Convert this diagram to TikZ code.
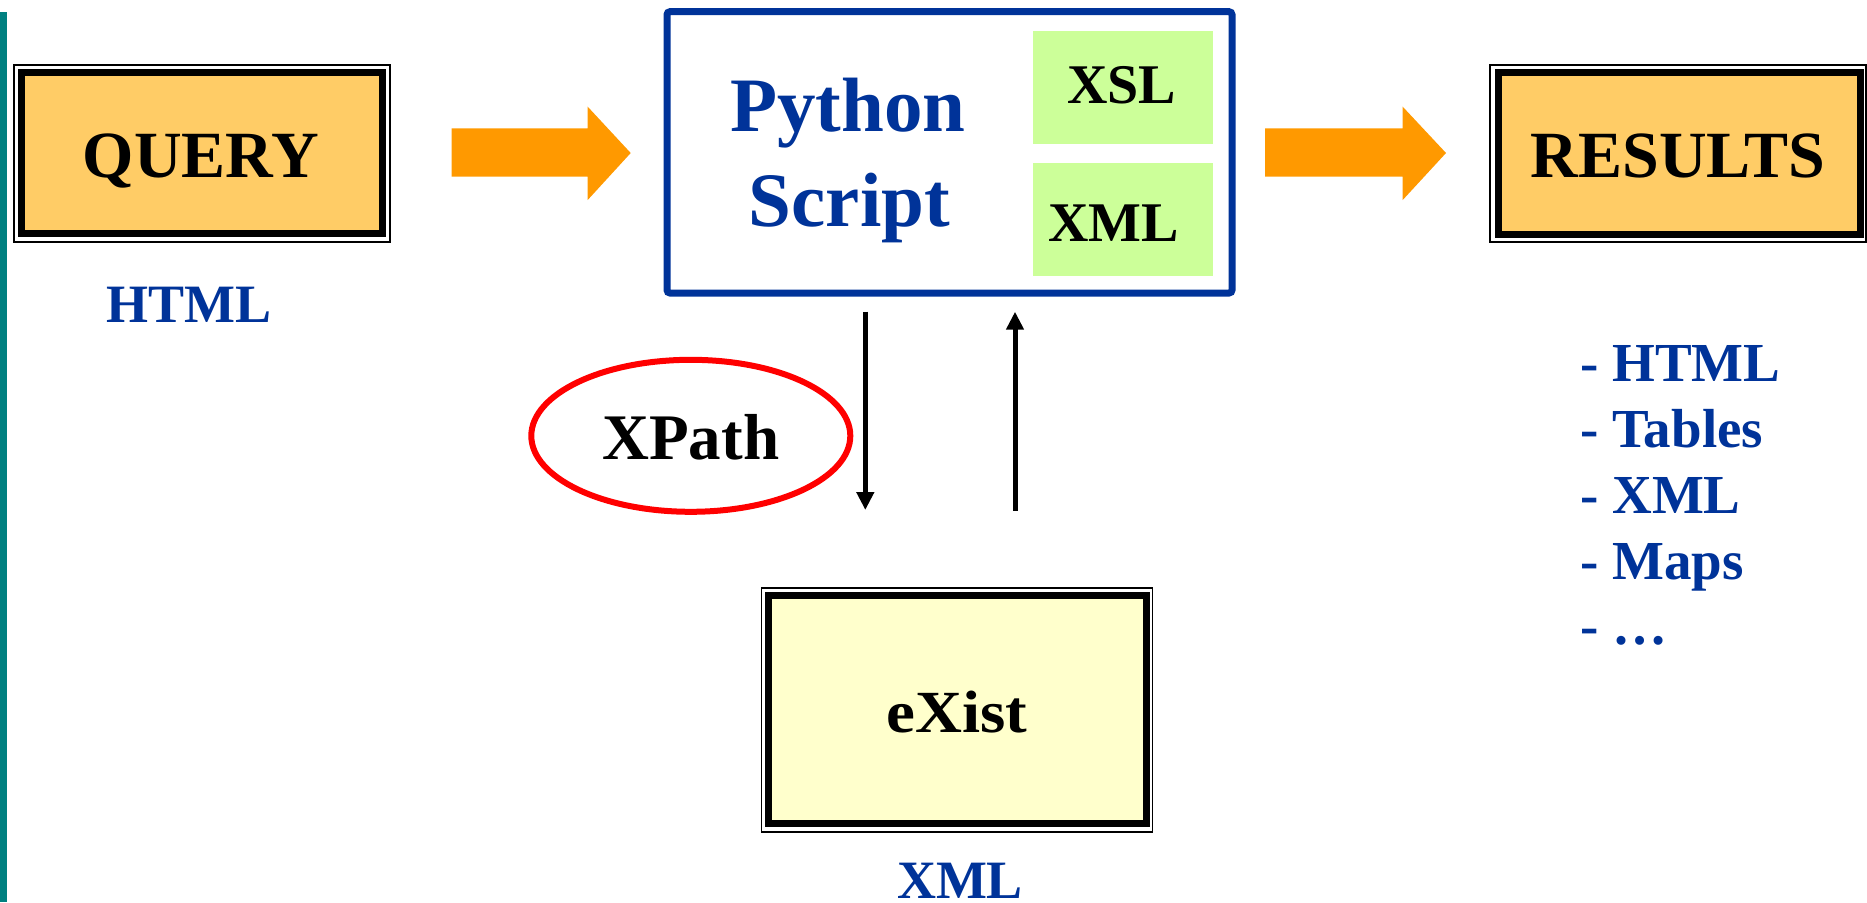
\documentclass[tikz,border=0pt]{standalone}
\usepackage{fontspec}
\setmainfont{Liberation Serif}
\usetikzlibrary{arrows.meta,shapes.geometric}
\definecolor{tealline}{HTML}{008080}
\definecolor{dblue}{HTML}{003399}
\definecolor{orng}{HTML}{FF9900}
\definecolor{boxfill}{HTML}{FFCC66}
\definecolor{grn}{HTML}{CCFF99}
\definecolor{ylw}{HTML}{FFFFCC}
\tikzset{
  lbl/.style={font=\bfseries\fontsize{#1}{#1}\selectfont, inner sep=0pt, anchor=base},
  thickbox/.style={draw=black, line width=7pt, inner sep=0pt, rectangle},
  thinline/.style={draw=black, line width=1.8pt},
  greenbox/.style={fill=grn, inner sep=0pt, rectangle},
  blockarrow/.style={fill=orng},
  vlink/.style={line width=5pt, -{Triangle[width=17pt,length=18pt]}},
}
\begin{document}
\begin{tikzpicture}[x=1pt,y=-1pt]
\useasboundingbox (0,0) rectangle (1867,902);
% teal side bar
\fill[tealline] (0,12) rectangle (7.3,902);

% QUERY box
\draw[thinline] (14,65) rectangle (390,242);
\node[thickbox, fill=boxfill, minimum width=361pt, minimum height=161pt] (query) at (201.5,152.5) {};
\node[lbl=66] (querytxt) at (200.8,177.3) {QUERY};
\node[lbl=54, text=dblue] (htmltxt) at (189,322.7) {HTML};

% RESULTS box
\draw[thinline] (1490,65) rectangle (1866,242);
\node[thickbox, fill=boxfill, minimum width=362pt, minimum height=162pt] (results) at (1679,153) {};
\node[lbl=66] (resultstxt) at (1678,177.7) {RESULTS};

% Python box
\node[draw=dblue, line width=7pt, rounded corners=3pt, inner sep=0pt, minimum width=565pt, minimum height=281.3pt] (py) at (949.5,152.35) {};
\node[greenbox, minimum width=179.4pt, minimum height=113.3pt] (xslbox) at (1123,87.65) {};
\node[greenbox, minimum width=179.4pt, minimum height=113.3pt] (xmlbox) at (1123,219.35) {};
\node[lbl=77, text=dblue] (pytxt) at (848,131.7) {Python};
\node[lbl=77, text=dblue] (scripttxt) at (849.4,226.7) {Script};
\node[lbl=56] (xsltxt) at (1121.7,103.3) {XSL};
\node[lbl=56] (xmltxt) at (1113.7,241.7) {XML};

% orange block arrows
\fill[blockarrow] (451.7,128.3) -- (587.7,128.3) -- (587.7,106.7) -- (630.7,153) -- (587.7,200) -- (587.7,176.7) -- (451.7,176.7) -- cycle;
\fill[blockarrow] (1265,128.3) -- (1402.7,128.3) -- (1402.7,106.7) -- (1446,153) -- (1402.7,200) -- (1402.7,176.7) -- (1265,176.7) -- cycle;

% XPath ellipse
\node[ellipse, draw=red, line width=6pt, inner sep=0pt, minimum width=319pt, minimum height=152pt] (xpath) at (690.8,435.8) {};
\node[lbl=65] (xpathtxt) at (690.8,459.3) {XPath};

% vertical arrows
\coordinate (downstart) at (865.3,311.7);
\coordinate (downend) at (865.3,510);
\coordinate (upstart) at (1015,510.7);
\coordinate (upend) at (1015,311.7);
\draw[vlink] (downstart) -- (downend);
\draw[vlink] (upstart) -- (upend);

% eXist box
\draw[thinline] (761.5,588) rectangle (1152.5,832);
\node[thickbox, fill=ylw, minimum width=378pt, minimum height=228.5pt] (exist) at (957,709.25) {};
\node[lbl=65] (existtxt) at (957,732.7) {\scalebox{1}[0.92]{eXist}};
\node[lbl=54, text=dblue] (xmlbottom) at (960,898) {XML};

% results list
\node[lbl=55, text=dblue, anchor=base west] (r1) at (1580,381.7) {- HTML};
\node[lbl=55, text=dblue, anchor=base west] (r2) at (1580,447.5) {- Tables};
\node[lbl=55, text=dblue, anchor=base west] (r3) at (1580,513.3) {- XML};
\node[lbl=55, text=dblue, anchor=base west] (r4) at (1580,579.1) {- Maps};
\node[lbl=55, text=dblue, anchor=base west] (r5) at (1580,644.9) {- …};
\end{tikzpicture}
\end{document}
